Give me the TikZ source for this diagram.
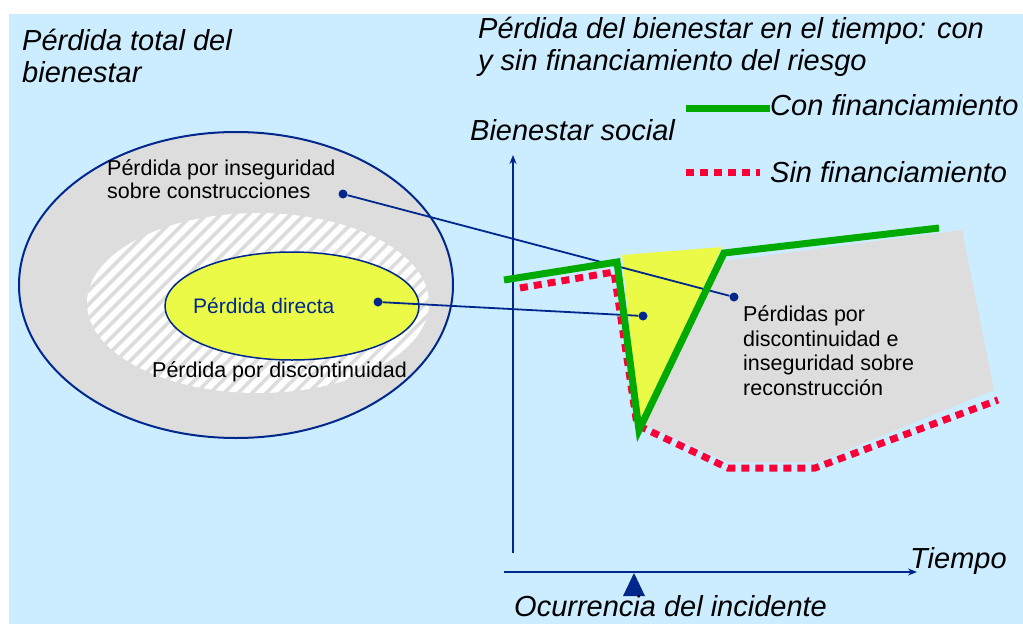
\documentclass[tikz,border=0pt]{standalone}
\usepackage{fontspec}
\setmainfont{Liberation Sans}
\usetikzlibrary{arrows.meta}

\definecolor{fondo}{RGB}{204,236,255}
\definecolor{azul}{RGB}{0,40,140}
\definecolor{verde}{RGB}{0,170,0}
\definecolor{rojo}{RGB}{250,0,55}
\definecolor{gris}{RGB}{221,221,221}
\definecolor{amarillo}{RGB}{235,250,70}

\tikzset{
    titulo/.style = {font = \fontsize{29}{32}\selectfont\itshape, anchor = base west, align = left, inner sep = 0pt},
    nota/.style = {font = \fontsize{21.5}{23}\selectfont, anchor = base west, align = left, inner sep = 0pt},
    punto/.style = {circle, fill = azul, inner sep = 0pt, minimum size = 9pt},
    enlace/.style = {azul, line width = 1.8},
    eje/.style = {azul, line width = 2, -{Stealth[length = 9pt, width = 7pt]}},
    con/.style = {verde, line width = 7, line join = miter},
    sin/.style = {rojo, line width = 7, dash pattern = on 8pt off 6pt},
}

\begin{document}
\begin{tikzpicture}[x = 1pt, y = -1pt]
    \useasboundingbox (0,0) rectangle (1023,624);
    \fill[fondo] (9,14) rectangle (1023,624);

    % titulos (base = ultima linea)
    \node[titulo] (tituloA) at (22,82) {Pérdida total del\\bienestar};
    \node[titulo] (tituloB) at (478,70) {Pérdida del bienestar en el tiempo: con\\y sin financiamiento del riesgo};

    % elipses de perdida
    \begin{scope}
        \draw[azul, line width = 2, fill = gris] (236,285) ellipse [x radius = 217, y radius = 153];
        \begin{scope}
            \clip (258,303) ellipse [x radius = 171, y radius = 90];
            \foreach \i in {-10, ..., 32}
                \draw[white, line width = 6] (\i*14,400) -- ++(200,-200);
        \end{scope}
        \draw[azul, line width = 1.5, fill = amarillo] (292,306) ellipse [x radius = 127, y radius = 54];
    \end{scope}
    \node[nota] (inseguridad) at (107,198) {Pérdida por inseguridad\\sobre construcciones};
    \node[nota, font = \fontsize{21}{23}\selectfont, text = azul] (directa) at (193,313) {Pérdida directa};
    \node[nota] (discontinuidad) at (152,377) {Pérdida por discontinuidad};

    % areas de perdida en el tiempo
    \fill[gris] (716,262) -- (962,230) -- (994,390) -- (818,462) -- (728,462) -- (645,425) -- cycle;
    \fill[amarillo] (622,255) -- (722,247) -- (640,425) -- cycle;
    \node[nota, font = \fontsize{21.5}{24.5}\selectfont] (reconstruccion) at (743,395) {Pérdidas por\\discontinuidad e\\inseguridad sobre\\reconstrucción};

    % enlaces
    \node[punto] (pA) at (343,194) {};
    \node[punto] (pB) at (378,302) {};
    \node[punto] (qA) at (734,297) {};
    \node[punto] (qB) at (643,316) {};
    \draw[enlace] (pA) -- (qA);
    \draw[enlace] (pB) -- (qB);

    % ejes
    \coordinate (origenY) at (513,553);
    \coordinate (topeY) at (513,155);
    \coordinate (origenX) at (504,572);
    \coordinate (topeX) at (917,572);
    \draw[eje] (origenY) -- (topeY);
    \draw[eje] (origenX) -- (topeX);
    \fill[azul] (623,596) -- (634,573) -- (645,596) -- cycle;
    \node[titulo] (bienestar) at (470,140) {Bienestar social};
    \node[titulo] (tiempo) at (910,568) {Tiempo};
    \node[titulo] (incidente) at (514,616) {Ocurrencia del incidente};

    % curvas
    \draw[sin] (520,288) -- (614,272) -- (637,425) -- (728,468) -- (815,468) -- (998,400);
    \draw[con] (504,280) -- (617,262) -- (639,430) -- (724,253) -- (939,228);

    % leyenda
    \coordinate (conA) at (686,108);
    \coordinate (conB) at (770,108);
    \coordinate (sinA) at (686,172);
    \coordinate (sinB) at (760,172);
    \draw[con] (conA) -- (conB);
    \draw[sin] (sinA) -- (sinB);
    \node[titulo] (conTexto) at (770,115) {Con financiamiento};
    \node[titulo] (sinTexto) at (770,182) {Sin financiamiento};
\end{tikzpicture}
\end{document}
